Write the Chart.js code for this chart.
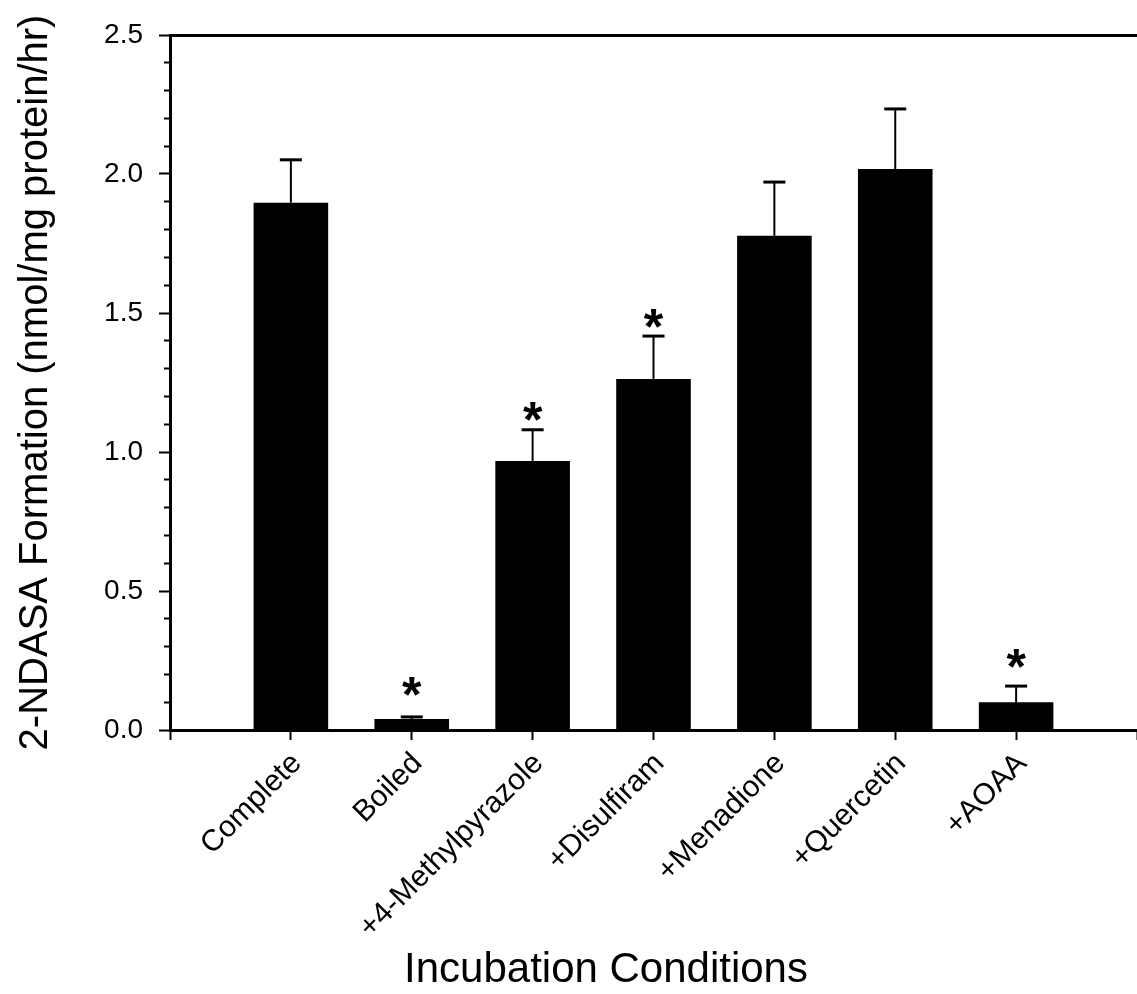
<!DOCTYPE html>
<html>
<head>
<meta charset="utf-8">
<script src="https://cdn.jsdelivr.net/npm/chart.js@4.4.0/dist/chart.umd.min.js"></script>
<style>
  html, body { margin: 0; padding: 0; background: #fff; }
  #wrap { width: 1137px; height: 994px; position: relative; }
</style>
</head>
<body>
<div id="wrap"><canvas id="chart"></canvas></div>
<script>
// Data
const categories = ['Complete', 'Boiled', '+4-Methylpyrazole', '+Disulfiram', '+Menadione', '+Quercetin', '+AOAA'];
const meanValues = [1.897, 0.040, 0.968, 1.263, 1.778, 2.018, 0.100];
const errorTops = [2.051, 0.047, 1.080, 1.417, 1.971, 2.234, 0.158];
// y position (data units) of the significance stars, null = none
const starLevels = [null, 0.169, 1.158, 1.491, null, null, 0.268];
const yMajorTicks = [0.0, 0.5, 1.0, 1.5, 2.0, 2.5];

const FONT = '"Liberation Sans", Arial, sans-serif';

// empty slot at each end, so the ticks sit at 0..8 like the original
const labels = [''].concat(categories, ['']);
const barData = [null].concat(meanValues, [null]);

function isMajor(v) {
    return yMajorTicks.some(t => Math.abs(t - v) < 1e-6);
}

// upper error bars + stars
const errorBarPlugin = {
    id: 'errorBars',
    afterDatasetsDraw(chart) {
        const ctx = chart.ctx;
        const xs = chart.scales.x;
        const ys = chart.scales.y;
        ctx.save();
        ctx.strokeStyle = '#000';
        categories.forEach((c, i) => {
            const x = xs.getPixelForValue(i + 1);
            const yBar = ys.getPixelForValue(meanValues[i]);
            const yErr = ys.getPixelForValue(errorTops[i]);
            ctx.lineWidth = 2;
            ctx.beginPath();
            ctx.moveTo(x, yBar);
            ctx.lineTo(x, yErr);
            ctx.stroke();
            ctx.lineWidth = 3;
            ctx.beginPath();
            ctx.moveTo(x - 11, yErr);
            ctx.lineTo(x + 11, yErr);
            ctx.stroke();
            if (starLevels[i] !== null) {
                const size = 50;
                ctx.font = 'bold ' + size + 'px ' + FONT;
                ctx.fillStyle = '#000';
                ctx.textAlign = 'center';
                ctx.textBaseline = 'alphabetic';
                ctx.fillText('*', x, ys.getPixelForValue(starLevels[i]) + size * 0.575);
            }
        });
        ctx.restore();
    }
};

// x axis title, placed where the original has it
const xTitlePlugin = {
    id: 'xTitle',
    afterDraw(chart) {
        const ctx = chart.ctx;
        ctx.save();
        ctx.font = '42px ' + FONT;
        ctx.fillStyle = '#000';
        ctx.textAlign = 'center';
        ctx.textBaseline = 'alphabetic';
        ctx.fillText('Incubation Conditions', 606, 982);
        ctx.restore();
    }
};

const chart = new Chart(document.getElementById('chart'), {
    type: 'bar',
    data: {
        labels: labels,
        datasets: [{
            data: barData,
            backgroundColor: '#000',
            borderWidth: 0,
            categoryPercentage: 1,
            barPercentage: 0.617
        }]
    },
    options: {
        responsive: true,
        maintainAspectRatio: false,
        animation: false,
        events: [],
        layout: { padding: { top: 35, right: -5, bottom: 0, left: 0 } },
        plugins: {
            legend: { display: false },
            tooltip: { enabled: false }
        },
        scales: {
            x: {
                type: 'category',
                offset: false,
                afterFit: s => {
                    s.height = 264;
                    s.paddingLeft = 0;
                    s.paddingRight = 0;
                },
                border: { display: true, color: '#000', width: 3 },
                grid: {
                    offset: false,
                    drawOnChartArea: false,
                    drawTicks: true,
                    tickLength: 10,
                    tickWidth: 2,
                    tickColor: '#000'
                },
                ticks: {
                    color: '#000',
                    font: { family: FONT, size: 30 },
                    minRotation: 45,
                    maxRotation: 45,
                    autoSkip: false,
                    padding: 6,
                    labelOffset: 6
                }
            },
            xTop: {
                type: 'category',
                position: 'top',
                labels: labels,
                offset: false,
                afterFit: s => {
                    s.height = 0;
                    s.paddingLeft = 0;
                    s.paddingRight = 0;
                },
                border: { display: true, color: '#000', width: 3 },
                grid: { display: false, drawTicks: false },
                ticks: { display: false }
            },
            y: {
                min: 0,
                max: 2.5,
                afterFit: s => { s.width = 170; },
                border: { display: true, color: '#000', width: 3 },
                grid: {
                    drawOnChartArea: false,
                    drawTicks: true,
                    tickLength: 11,
                    tickColor: '#000',
                    tickWidth: 2,
                    // minor ticks: only draw the half of the tick next to the axis
                    tickBorderDash: ctx => (ctx.tick && isMajor(ctx.tick.value)) ? [] : [0, 5, 6, 100]
                },
                ticks: {
                    stepSize: 0.1,
                    maxTicksLimit: 40,
                    autoSkip: false,
                    color: '#000',
                    font: { family: FONT, size: 28 },
                    padding: 16,
                    callback: v => isMajor(v) ? v.toFixed(1) : ''
                },
                title: {
                    display: true,
                    text: '2-NDASA Formation (nmol/mg protein/hr)',
                    color: '#000',
                    font: { family: FONT, size: 40 },
                    padding: { top: 12, bottom: 0 }
                }
            }
        }
    },
    plugins: [errorBarPlugin, xTitlePlugin]
});
</script>
</body>
</html>
